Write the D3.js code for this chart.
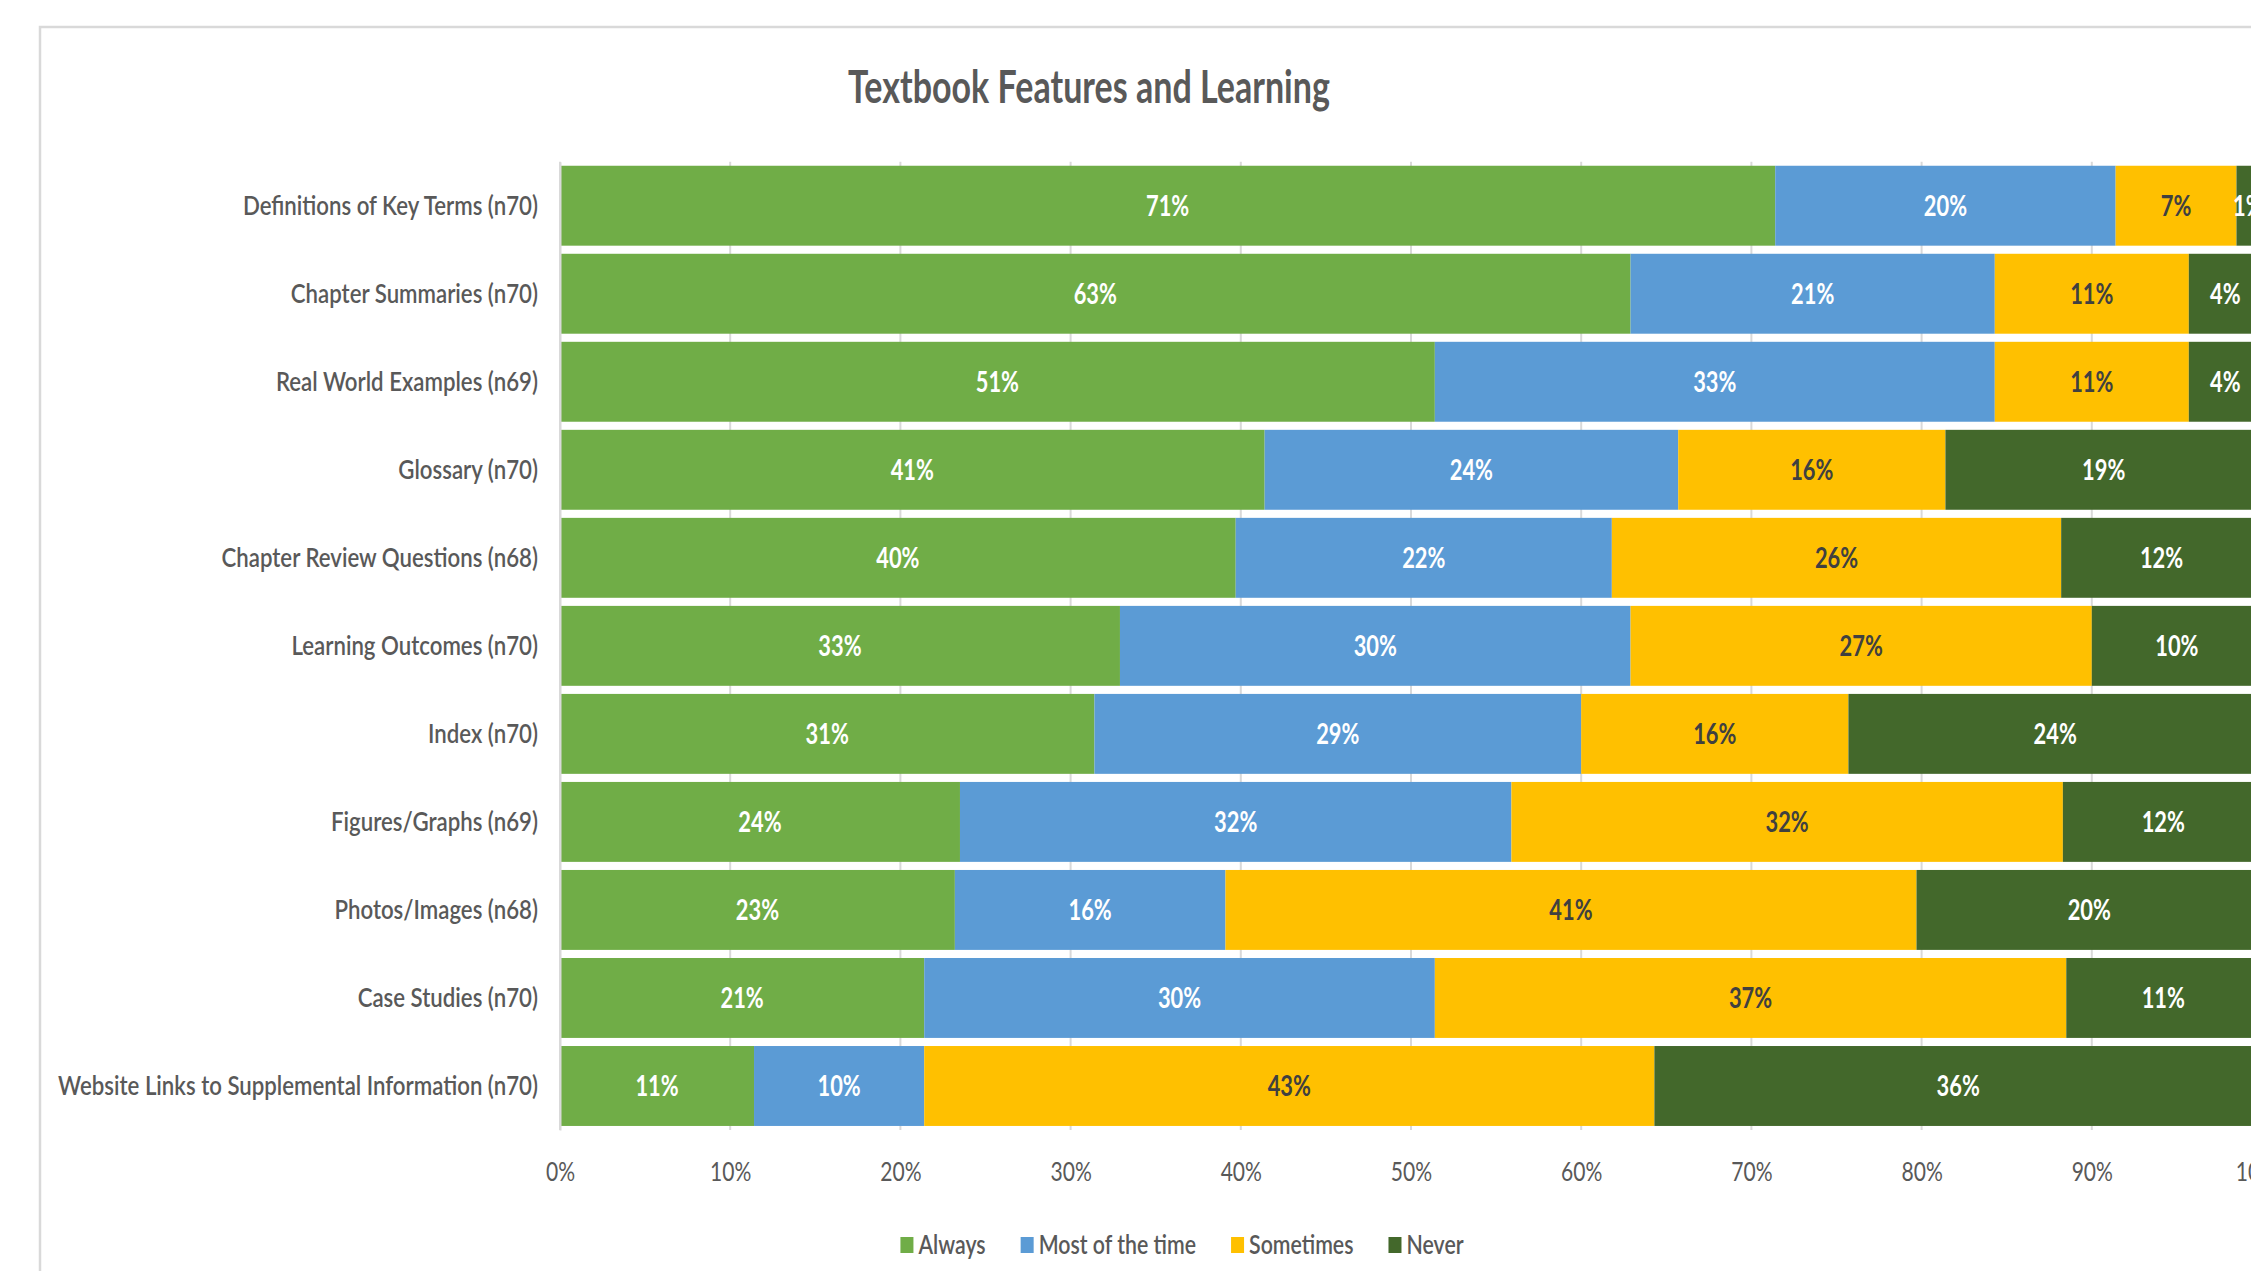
<!DOCTYPE html>
<html>
<head>
<meta charset="utf-8">
<script src="https://cdn.jsdelivr.net/npm/d3@7"></script>
<style>
  html, body { margin: 0; padding: 0; background: #fff; overflow: hidden; }
  text { font-family: Lato, "Open Sans", sans-serif; }
</style>
</head>
<body>
<div id="chart"></div>
<script>
// data (percent of respondents)
const categories = [
  'Definitions of Key Terms (n70)',
  'Chapter Summaries (n70)',
  'Real World Examples (n69)',
  'Glossary (n70)',
  'Chapter Review Questions (n68)',
  'Learning Outcomes (n70)',
  'Index (n70)',
  'Figures/Graphs (n69)',
  'Photos/Images (n68)',
  'Case Studies (n70)',
  'Website Links to Supplemental Information (n70)'
]
const always        = [71.4, 62.9, 51.4, 41.4, 39.7, 32.9, 31.4, 23.5, 23.2, 21.4, 11.4]
const mostOfTheTime = [20.0, 21.4, 32.9, 24.3, 22.1, 30.0, 28.6, 32.4, 15.9, 30.0, 10.0]
const sometimes     = [ 7.1, 11.4, 11.4, 15.7, 26.4, 27.1, 15.7, 32.4, 40.6, 37.1, 42.9]
const never         = [ 1.4,  4.3,  4.3, 18.6, 11.8, 10.0, 24.3, 11.8, 20.3, 11.4, 35.7]
const seriesNames = ['Always', 'Most of the time', 'Sometimes', 'Never']
const xTicks = [0, 10, 20, 30, 40, 50, 60, 70, 80, 90, 100]

const colors = { 'Always': '#70AD47', 'Most of the time': '#5B9BD5', 'Sometimes': '#FFC000', 'Never': '#43682B' }
const labelColors = { 'Always': '#ffffff', 'Most of the time': '#ffffff', 'Sometimes': '#404040', 'Never': '#ffffff' }

const W = 2251, H = 1271

const rows = categories.map((c, i) => ({
  cat: c,
  'Always': always[i],
  'Most of the time': mostOfTheTime[i],
  'Sometimes': sometimes[i],
  'Never': never[i]
}))
const stacked = d3.stack().keys(seriesNames)(rows)

const svg = d3.select('#chart').append('svg')
  .attr('width', W).attr('height', H)
  .attr('viewBox', `0 0 ${W} ${H}`)

// the source text is horizontally condensed: squeeze each text around its own x
const squeeze = k => sel => sel.each(function () {
  const t = d3.select(this)
  const x = +t.attr('x') || 0
  t.attr('transform', `translate(${x},0) scale(${k},1) translate(${-x},0)`)
})

// chart frame
svg.append('rect')
  .attr('x', 40).attr('y', 27).attr('width', 2400).attr('height', 1400)
  .attr('fill', '#fff').attr('stroke', '#d9d9d9').attr('stroke-width', 2.5)

const x = d3.scaleLinear().domain([0, 100]).range([560, 2262])
const y = d3.scaleBand().domain(categories).range([161.7, 1130]).paddingInner(0.092).paddingOuter(0.046)

// ── gridlines ──────────────────────────────────────────────
svg.append('g').selectAll('line')
  .data(xTicks)
  .join('line')
  .attr('x1', d => x(d)).attr('x2', d => x(d))
  .attr('y1', y.range()[0]).attr('y2', y.range()[1])
  .attr('stroke', '#d9d9d9').attr('stroke-width', 2)

// ── bars ────────────────────────────────────────────────────
const layer = svg.append('g').selectAll('g')
  .data(stacked)
  .join('g')
  .attr('fill', s => colors[s.key])

layer.selectAll('rect')
  .data(s => s.map(d => ({ key: s.key, d })))
  .join('rect')
  .attr('x', o => x(o.d[0]))
  .attr('width', o => x(o.d[1]) - x(o.d[0]))
  .attr('y', o => y(o.d.data.cat))
  .attr('height', y.bandwidth())

// data labels
svg.append('g').selectAll('g')
  .data(stacked)
  .join('g')
  .selectAll('text')
  .data(s => s.map(d => ({ key: s.key, d })))
  .join('text')
  .attr('x', o => x((o.d[0] + o.d[1]) / 2))
  .attr('y', o => y(o.d.data.cat) + y.bandwidth() / 2)
  .attr('dy', '0.36em')
  .attr('text-anchor', 'middle')
  .attr('fill', o => labelColors[o.key])
  .style('font-size', '28px').style('font-weight', 700)
  .text(o => Math.round(o.d.data[o.key]) + '%')
  .call(squeeze(0.78))

// ── axes ────────────────────────────────────────────────────
const yAxis = svg.append('g')
  .attr('transform', `translate(${x(0)},0)`)
  .call(d3.axisLeft(y).tickSize(0).tickPadding(22))
yAxis.select('.domain').attr('stroke', '#d9d9d9').attr('stroke-width', 2)
yAxis.selectAll('text')
  .attr('fill', '#595959').style('font-size', '26px').style('font-weight', 600).attr('dy', '0.36em')
  .call(squeeze(0.855))

const xAxis = svg.append('g')
  .attr('transform', `translate(0,${y.range()[1]})`)
  .call(d3.axisBottom(x).tickValues(xTicks).tickFormat(d => d + '%').tickSize(0).tickPadding(32))
xAxis.select('.domain').remove()
xAxis.selectAll('text')
  .attr('fill', '#595959').style('font-size', '27px')
  .call(squeeze(0.78))

// ── title ───────────────────────────────────────────────────
svg.append('text')
  .attr('x', 1089).attr('y', 103)
  .attr('text-anchor', 'middle')
  .attr('fill', '#595959')
  .style('font-size', '46px').style('font-weight', 700)
  .text('Textbook Features and Learning')
  .call(squeeze(0.74))

// ── legend ──────────────────────────────────────────────────
const KL = 0.82
const legend = svg.append('g').attr('transform', 'translate(0,1245)')
const items = legend.selectAll('g').data(seriesNames).join('g')
items.append('rect')
  .attr('y', -8).attr('width', 13).attr('height', 16)
  .attr('fill', d => colors[d])
items.append('text')
  .attr('x', 18).attr('dy', '0.36em')
  .attr('fill', '#595959').style('font-size', '26px').style('font-weight', 600)
  .text(d => d)
  .call(squeeze(KL))
let cx = 0
const offsets = []
items.each(function () {
  offsets.push(cx)
  const tw = d3.select(this).select('text').node().getComputedTextLength() * KL
  cx += 18 + tw + 35
})
const total = cx - 35
const start = 1182 - total / 2
items.attr('transform', (d, i) => `translate(${start + offsets[i]},0)`)
</script>
</body>
</html>
